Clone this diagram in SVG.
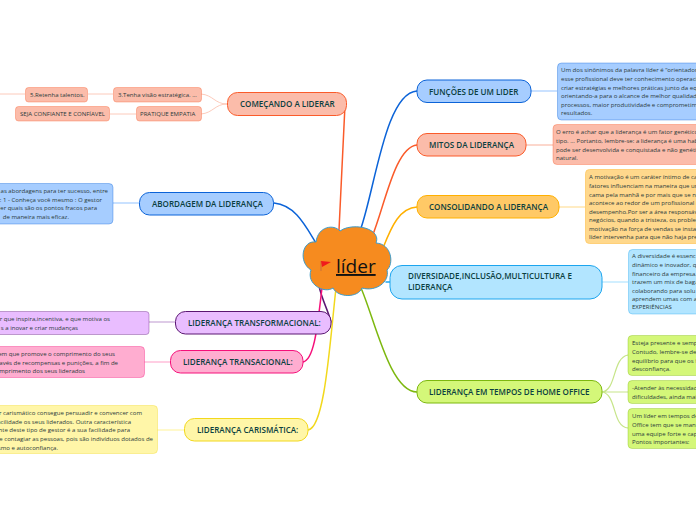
<svg xmlns="http://www.w3.org/2000/svg" width="696" height="520" viewBox="0 0 696 520">
<style>
text{font-family:"Open Sans","Noto Sans","Liberation Sans",sans-serif;fill:#0c3b3b}
.m{font-size:8.05px;font-weight:600;fill:#0b4040}
.n{font-size:6.05px;fill:#2b3a3a}
.e{text-anchor:end}
.c{fill:none;stroke-width:1.5;stroke-linecap:round}
.s{fill:none;stroke-width:1.2}
.o{fill:#fbbcaa;stroke:#fa5b2a}
.b{fill:#a6cdff;stroke:#0b63d8}
.y{fill:#ffc966;stroke:#ffb000}
.k{fill:#b2e5ff;stroke:#1ca5ee}
.g{fill:#d4f779;stroke:#7db80f}
.p{fill:#e9bdff;stroke:#5a1672}
.r{fill:#ffadd0;stroke:#f5107a}
.l{fill:#fff6a8;stroke:#f2d81c}
.nb{stroke-width:.8;stroke-opacity:.45}
</style>
<g id="connectors">
<path class="c" stroke="#fa5b2a" d="M345 105C343 150 341 190 339 230"/>
<path class="c" stroke="#0b63d8" d="M274 203C295 205 305 225 316 243"/>
<path class="c" stroke="#0b63d8" d="M417 91C385 93 375 190 360 231"/>
<path class="c" stroke="#fa5b2a" d="M417 145C395 147 385 205 372 237"/>
<path class="c" stroke="#ffb000" d="M417 207C400 208 392 225 383 248"/>
<path class="c" stroke="#1ca5ee" d="M390 282L386 282"/>
<path class="c" stroke="#7db80f" d="M417 392C390 392 375 320 361 288"/>
<path class="c" stroke="#5a1672" d="M331 322C328 310 322 300 319 286"/>
<path class="c" stroke="#f5107a" d="M303 362C315 360 318 320 322 288"/>
<path class="c" stroke="#f2d81c" d="M308 430C325 428 330 340 336 288"/>
<g class="s">
<path stroke="#fbbcaa" d="M227 104C215 104 213 95 201 94M227 104C215 104 213 113 201 114M113 94L88 94M25 94L0 94M136 114L110 114" style="stroke-width:.8"/>
<path stroke="#a6cdff" d="M139 203L113 203"/>
<path stroke="#c9a8d8" d="M175 322L149 322"/>
<path stroke="#ffadd0" d="M170 362L144 362"/>
<path stroke="#fff6a8" d="M184 430L157 430"/>
<path stroke="#a6cdff" d="M531 91L557 91"/>
<path stroke="#fbbcaa" d="M526 145L553 145"/>
<path stroke="#ffdf9c" d="M559 207L585 207"/>
<path stroke="#b2e5ff" d="M602 282L628 282"/>
<path d="M602 392C617 390 612 358 628 355M602 392L628 392M602 392C617 394 612 427 628 428" style="stroke:#c7e58a"/>
</g>
</g>
<g id="lider">
<path fill="#f68b1f" stroke="#3d9bc9" d="M316 242C302 240 298 262 311 270C306 284 324 294 333 288C338 298 358 298 362 288C376 292 390 282 387 270C394 264 392 244 376 243C382 228 352 222 340 231C334 224 318 226 316 242Z"/>
<path d="M321 261L321 271" stroke="#c9713a" stroke-width="1" fill="none"/>
<path d="M321 261L331 262L322 267Z" fill="#f01c1c"/>
<text x="336" y="273" style="font-size:19px;font-weight:500;fill:#111;text-decoration:underline">líder</text>
</g>
<g id="comecando"><rect class="o" x="227.500" y="92.500" width="119" height="23" rx="10"/><text class="m" x="240" y="107">COMEÇANDO A LIDERAR</text></g>
<g id="tenha"><rect class="o nb" x="113.500" y="87.500" width="88" height="14.500" rx="3"/><text class="n" x="118" y="97">3.Tenha visão estratégica. ...</text></g>
<g id="retenha"><rect class="o nb" x="25.500" y="87.500" width="62" height="14.500" rx="3"/><text class="n" x="30" y="97">5.Retenha talentos.</text></g>
<g id="seja"><rect class="o nb" x="15.500" y="106.500" width="94" height="14.500" rx="3"/><text class="n" x="20" y="116">SEJA CONFIANTE E CONFÍAVEL</text></g>
<g id="pratique"><rect class="o nb" x="136.500" y="106.500" width="65" height="14.500" rx="3"/><text class="n" x="140" y="116">PRATIQUE EMPATIA</text></g>
<g id="abordagem"><rect class="b" x="139.500" y="192.500" width="134" height="22.500" rx="10"/><text class="m" x="152" y="207">ABORDAGEM DA LIDERANÇA</text></g>
<g id="abordagem-nota"><rect class="b nb" x="-10" y="183.500" width="123" height="40.500" rx="4"/>
<text class="n e"><tspan x="108" y="193">as abordagens para ter sucesso, entre</tspan><tspan x="102" y="201.500">o: 1 - Conheça você mesmo :  O gestor</tspan><tspan x="97" y="210">er quais são os pontos fracos para</tspan><tspan x="69" y="219">de maneira mais eficaz.</tspan></text></g>
<g id="transformacional"><rect class="p" x="175.500" y="311.500" width="155.500" height="22.500" rx="10"/><text class="m" x="188" y="326">LIDERANÇA TRANSFORMACIONAL:</text></g>
<g id="transformacional-nota"><rect class="p nb" x="-10" y="311.500" width="159" height="23" rx="3"/>
<text class="n e"><tspan x="110" y="321">r que inspira,incentiva, e que motiva os</tspan><tspan x="78" y="330">s a inovar e criar mudanças</tspan></text></g>
<g id="transacional"><rect class="r" x="170.500" y="350.500" width="132.500" height="22.500" rx="10"/><text class="m" x="183" y="365">LIDERANÇA TRANSACIONAL:</text></g>
<g id="transacional-nota"><rect class="r nb" x="-10" y="346.500" width="154.500" height="31" rx="4"/>
<text class="n e"><tspan x="115" y="356">em que promove o comprimento do seus</tspan><tspan x="118" y="364.500">avés de recompensas e punições, a fim de</tspan><tspan x="85" y="373">mprimento dos seus liderados</tspan></text></g>
<g id="carismatica"><rect class="l" x="184.500" y="418.500" width="123.500" height="22.500" rx="10"/><text class="m" x="197" y="433">LIDERANÇA CARISMÁTICA:</text></g>
<g id="carismatica-nota"><rect class="l nb" x="-10" y="405.500" width="167.500" height="48" rx="4"/>
<text class="n e"><tspan x="142" y="415">r carismático consegue persuadir e convencer com</tspan><tspan x="131" y="424">acilidade os seus liderados. Outra característica</tspan><tspan x="130" y="432">nte deste tipo de gestor é a sua facilidade para</tspan><tspan x="153" y="441">e contagiar as pessoas, pois são indivíduos dotados de</tspan><tspan x="58" y="449.500">ismo e autoconfiança.</tspan></text></g>
<g id="funcoes"><rect class="b" x="417" y="80" width="114" height="22.500" rx="10"/><text class="m" x="429" y="94.500">FUNÇÕES DE UM LIDER</text></g>
<g id="funcoes-nota"><rect class="b nb" x="557.500" y="63" width="150" height="57" rx="4"/>
<text class="n"><tspan x="561" y="72">Um dos sinônimos da palavra líder é “orientador</tspan><tspan x="561" y="81">esse profissional deve ter conhecimento operaci</tspan><tspan x="561" y="89.500">criar estratégias e melhores práticas junto da eq</tspan><tspan x="561" y="98">orientando-a para o alcance de melhor qualidad</tspan><tspan x="561" y="106.500">processos, maior produtividade e comprometime</tspan><tspan x="561" y="115">resultados.</tspan></text></g>
<g id="mitos"><rect class="o" x="417" y="133.500" width="109" height="22.500" rx="10"/><text class="m" x="429" y="148">MITOS DA LIDERANÇA</text></g>
<g id="mitos-nota"><rect class="o nb" x="553" y="124.500" width="150" height="40" rx="4"/>
<text class="n"><tspan x="556" y="134">O erro é achar que a liderança é um fator genético</tspan><tspan x="556" y="143">tipo. ... Portanto, lembre-se: a liderança é uma hab</tspan><tspan x="556" y="151.500">pode ser desenvolvida e conquistada e não genéti</tspan><tspan x="556" y="160">natural.</tspan></text></g>
<g id="consolidando"><rect class="y" x="417" y="195.500" width="142" height="22.500" rx="10"/><text class="m" x="429" y="210">CONSOLIDANDO A LIDERANÇA</text></g>
<g id="consolidando-nota"><rect x="585.500" y="169.500" width="120" height="74" rx="4" fill="#ffd88c" stroke="#ffc966" stroke-width=".8"/>
<text class="n"><tspan x="589" y="179">A motivação é um caráter íntimo de ca</tspan><tspan x="589" y="188">fatores influenciam na maneira que ur</tspan><tspan x="589" y="196.500">cama pela manhã e por mais que se n</tspan><tspan x="589" y="205">acontece ao redor de um profissional i</tspan><tspan x="589" y="213.500">desempenho.Por ser a área responsáv</tspan><tspan x="589" y="222">negócios, quando a tristeza, os proble</tspan><tspan x="589" y="230.500">motivação na força de vendas se insta</tspan><tspan x="589" y="239">líder intervenha para que não haja pre</tspan></text></g>
<g id="diversidade"><rect class="k" x="390" y="265.500" width="212" height="33.500" rx="12"/><text class="m"><tspan x="408" y="279">DIVERSIDADE,INCLUSÃO,MULTICULTURA E</tspan><tspan x="408" y="290">LIDERANÇA</tspan></text></g>
<g id="diversidade-nota"><rect class="k nb" x="628.500" y="249.500" width="80" height="64.500" rx="4"/>
<text class="n"><tspan x="632" y="258">A diversidade é essenc</tspan><tspan x="632" y="267">dinâmico e inovador, q</tspan><tspan x="632" y="275.500">financeiro da empresa.</tspan><tspan x="632" y="284">trazem um mix de baga</tspan><tspan x="632" y="292.500">colaborando para solu</tspan><tspan x="632" y="301">aprendem umas com a</tspan><tspan x="632" y="309">EXPERIÊNCIAS</tspan></text></g>
<g id="homeoffice"><rect class="g" x="417" y="380.500" width="185" height="22.500" rx="10"/><text class="m" x="429" y="395">LIDERANÇA EM TEMPOS DE HOME OFFICE</text></g>
<g id="ho-nota1"><rect class="g nb" x="628" y="335.500" width="80" height="40" rx="4"/>
<text class="n"><tspan x="632" y="345">Esteja presente e semp</tspan><tspan x="632" y="354">Contudo, lembre-se de</tspan><tspan x="632" y="362.500">equilíbrio para que os f</tspan><tspan x="632" y="371">desconfiança.</tspan></text></g>
<g id="ho-nota2"><rect class="g nb" x="628" y="380.500" width="80" height="23" rx="4"/>
<text class="n"><tspan x="632" y="390">-Atender às necessidad</tspan><tspan x="632" y="399">dificuldades, ainda mai</tspan></text></g>
<g id="ho-nota3"><rect class="g nb" x="628" y="408.500" width="80" height="40" rx="4"/>
<text class="n"><tspan x="632" y="418">Um líder em tempos de</tspan><tspan x="632" y="427">Office tem que se mant</tspan><tspan x="632" y="435.500">uma equipe forte e cap</tspan><tspan x="632" y="444">Pontos importantes:</tspan></text></g>
</svg>
